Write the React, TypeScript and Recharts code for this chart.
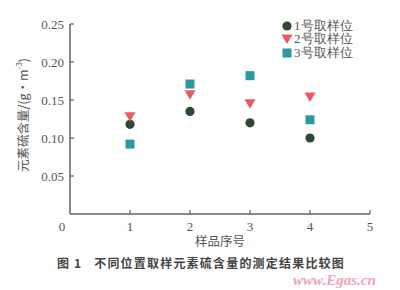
import React from "react";
import { ScatterChart, Scatter, XAxis, YAxis } from "recharts";

const samples = [1, 2, 3, 4];
const site1 = [0.118, 0.135, 0.12, 0.1];
const site2 = [0.128, 0.157, 0.145, 0.154];
const site3 = [0.092, 0.171, 0.182, 0.124];
const xTicks = [0, 1, 2, 3, 4, 5];
const yTicks = [0.05, 0.1, 0.15, 0.2, 0.25];
const seriesNames = ["1号取样位", "2号取样位", "3号取样位"];
const colors = ["#2b4a2e", "#ec5a5e", "#2a9aa0"];

const toPoints = (vals: number[]) => samples.map((s, i) => ({ x: s, y: vals[i] }));

const axisColor = "#5b675b";
const textColor = "#555";
const serif = "Liberation Serif, Times New Roman, DejaVu Serif, serif";

const Circle = (p: any) => <circle cx={p.cx} cy={p.cy} r={4.6} fill={colors[0]} />;
const Tri = (p: any) => (
  <polygon
    points={`${p.cx - 5.5},${p.cy - 4.5} ${p.cx + 5.5},${p.cy - 4.5} ${p.cx},${p.cy + 5}`}
    fill={colors[1]}
  />
);
const Sq = (p: any) => <rect x={p.cx - 4.5} y={p.cy - 4.5} width={9} height={9} fill={colors[2]} />;

const YTick = (p: any) => (
  <g>
    <line x1={p.x} x2={p.x + 4} y1={p.y} y2={p.y} stroke={axisColor} strokeWidth={1.2} />
    <text x={p.x - 6} y={p.y} dy={4.5} textAnchor="end" fontSize={13} fill={textColor} style={{ fontFamily: serif }}>
      {Number(p.payload.value).toFixed(2)}
    </text>
  </g>
);

const XTick = (p: any) => {
  const v = p.payload.value;
  return (
    <g>
      {v !== 0 && <line x1={p.x} x2={p.x} y1={p.y} y2={p.y - 4} stroke={axisColor} strokeWidth={1.2} />}
      <text x={v === 0 ? p.x - 8 : p.x} y={p.y + 17} textAnchor="middle" fontSize={13} fill={textColor} style={{ fontFamily: serif }}>
        {v}
      </text>
    </g>
  );
};

const LegendBox = () => (
  <div style={{ position: "absolute", left: 281, top: 19, display: "flex", flexDirection: "column" }}>
    {seriesNames.map((n, i) => (
      <div key={n} style={{ display: "flex", alignItems: "center", height: 13.5, fontSize: 13, color: textColor, fontFamily: serif }}>
        <svg width={12} height={12} style={{ marginRight: 1 }}>
          {i === 0 && <circle cx={6} cy={6} r={4.6} fill={colors[0]} />}
          {i === 1 && <polygon points="0.5,1.5 11.5,1.5 6,11" fill={colors[1]} />}
          {i === 2 && <rect x={1.5} y={1.5} width={9} height={9} fill={colors[2]} />}
        </svg>
        <span>{n}</span>
      </div>
    ))}
  </div>
);

export default function App() {
  return (
    <div style={{ position: "absolute", left: 0, top: 0, width: 400, height: 290, background: "#fff" }}>
      <ScatterChart width={400} height={290} margin={{ top: 24, right: 30, bottom: 46, left: 10 }}>
        <XAxis
          type="number"
          dataKey="x"
          domain={[0, 5]}
          ticks={xTicks}
          interval={0}
          height={30}
          tickSize={0}
          tickMargin={0}
          tick={<XTick />}
          tickLine={false}
          axisLine={{ stroke: axisColor, strokeWidth: 1.5 }}
        />
        <YAxis
          type="number"
          dataKey="y"
          domain={[0, 0.25]}
          ticks={yTicks}
          interval={0}
          width={60}
          tickSize={0}
          tickMargin={0}
          tick={<YTick />}
          tickLine={false}
          axisLine={{ stroke: axisColor, strokeWidth: 1.5 }}
        />
        <Scatter name={seriesNames[0]} data={toPoints(site1)} shape={<Circle />} isAnimationActive={false} />
        <Scatter name={seriesNames[1]} data={toPoints(site2)} shape={<Tri />} isAnimationActive={false} />
        <Scatter name={seriesNames[2]} data={toPoints(site3)} shape={<Sq />} isAnimationActive={false} />
      </ScatterChart>
      <LegendBox />
      <div
        style={{
          position: "absolute",
          left: 22,
          top: 115,
          transform: "translate(-50%, -50%) rotate(-90deg)",
          whiteSpace: "nowrap",
          fontSize: 12.5,
          color: textColor,
          fontFamily: "Noto Sans CJK SC, sans-serif",
        }}
      >
        元素硫含量/(g·m<sup style={{ fontSize: 8 }}>-3</sup>)
      </div>
      <div
        style={{
          position: "absolute",
          left: 220,
          top: 241,
          transform: "translate(-50%, -50%)",
          whiteSpace: "nowrap",
          fontSize: 12.5,
          lineHeight: "14px",
          color: textColor,
          fontFamily: "Noto Sans CJK SC, sans-serif",
        }}
      >
        样品序号
      </div>
      <div
        style={{
          position: "absolute",
          left: 57,
          top: 262,
          transform: "translateY(-50%)",
          whiteSpace: "nowrap",
          fontSize: 12,
          letterSpacing: 1.2,
          fontWeight: 700,
          color: "#444",
          fontFamily: "Noto Sans CJK SC, sans-serif",
        }}
      >
        图 1&nbsp;&nbsp;&nbsp;不同位置取样元素硫含量的测定结果比较图
      </div>
      <div
        style={{
          position: "absolute",
          left: 293,
          top: 280,
          transform: "translateY(-50%)",
          whiteSpace: "nowrap",
          fontSize: 15,
          fontStyle: "italic",
          fontWeight: 700,
          color: "#f2a3b3",
          fontFamily: serif,
        }}
      >
        www.Egas.cn
      </div>
    </div>
  );
}
